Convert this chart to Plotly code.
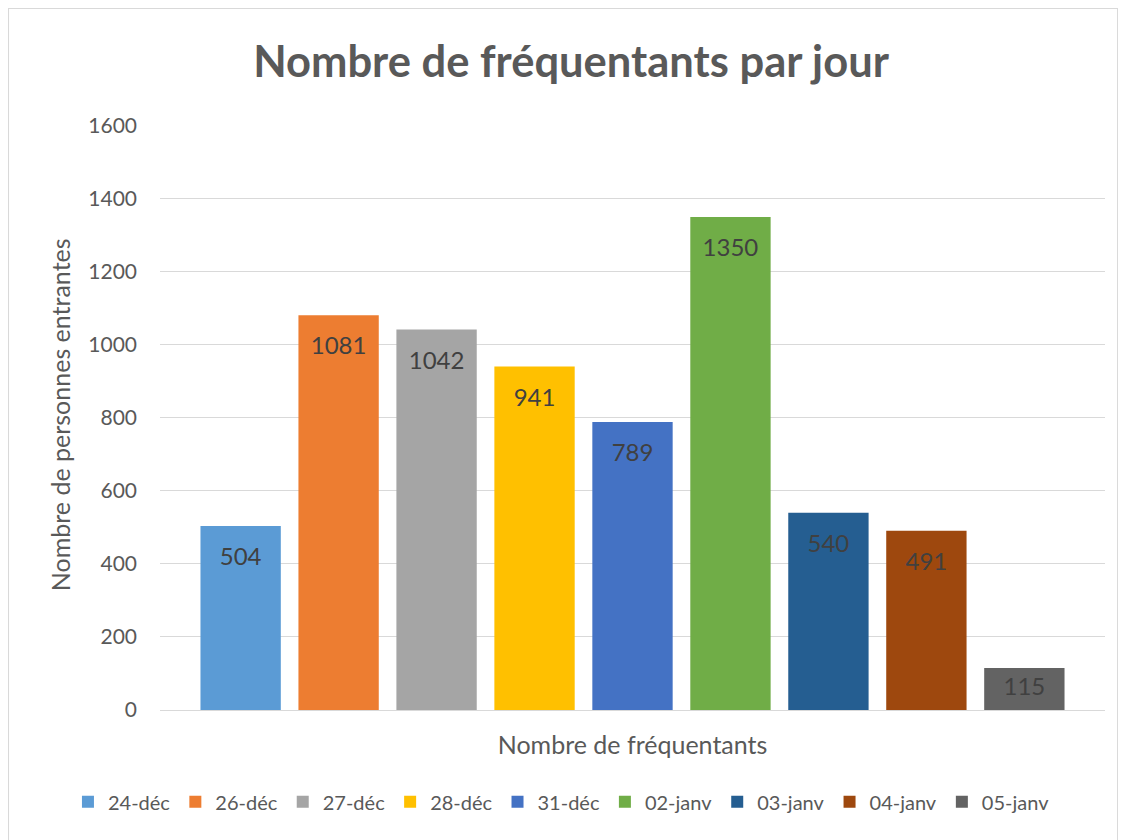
import plotly.graph_objects as go

# --- Data ---
jours = ["24-déc", "26-déc", "27-déc", "28-déc", "31-déc",
         "02-janv", "03-janv", "04-janv", "05-janv"]
frequentants = [504, 1081, 1042, 941, 789, 1350, 540, 491, 115]
couleurs = ["#5B9BD5", "#ED7D31", "#A5A5A5", "#FFC000", "#4472C4",
            "#70AD47", "#255E91", "#9E480E", "#636363"]
categorie = ["Nombre de fréquentants"]
y_ticks = [0, 200, 400, 600, 800, 1000, 1200, 1400, 1600]

police = "Lato"
gris = "#595959"


def etiquette(v):
    # small leading line pushes the label down from the bar top (tall bars only)
    if v > 200:
        return "<span style='font-size:5px'>&nbsp;</span><br>" + str(v)
    return str(v)


fig = go.Figure()
for jour, val, col in zip(jours, frequentants, couleurs):
    fig.add_trace(go.Bar(
        x=categorie, y=[val], name=jour,
        marker=dict(color=col, line=dict(width=0)),
        text=[etiquette(val)],
        textposition="inside", insidetextanchor="end",
        textfont=dict(family=police, size=24, color="#404040"),
        textangle=0, constraintext="none",
    ))

fig.update_layout(
    width=1118, height=832,
    paper_bgcolor="white", plot_bgcolor="white",
    margin=dict(l=152, r=21, t=117, b=130, autoexpand=False),
    barmode="group", bargap=0.067, bargroupgap=0.18,
    font=dict(family=police, color=gris),
    title=dict(text="<b>Nombre de fréquentants par jour</b>",
               xref="container", x=0.5036, xanchor="center",
               yref="container", y=0.935, yanchor="middle",
               font=dict(family=police, size=43.5, color=gris)),
    xaxis=dict(showgrid=False, showline=True, linecolor="#d9d9d9", linewidth=1,
               ticks="", ticklabelstandoff=13,
               tickfont=dict(family=police, size=25, color=gris)),
    yaxis=dict(range=[0, 1602], tickvals=y_ticks, showgrid=True,
               gridcolor="#d9d9d9", gridwidth=1, zeroline=False,
               ticks="", ticklabelstandoff=22,
               tickfont=dict(family=police, size=21, color=gris)),
    legend=dict(orientation="h", xref="paper", x=-0.0974, xanchor="left",
                yref="paper", y=-0.157, yanchor="middle",
                font=dict(family=police, size=20, color=gris),
                itemwidth=30, tracegroupgap=0),
    annotations=[dict(text="Nombre de personnes entrantes", textangle=-90,
                      xref="paper", yref="paper", x=-0.1058, y=0.504,
                      xanchor="center", yanchor="middle", showarrow=False,
                      font=dict(family=police, size=25, color=gris))],
    shapes=[dict(type="rect", xref="paper", yref="paper",
                 x0=-0.1608, x1=1.0138, y0=-0.25, y1=1.2,
                 line=dict(color="#d9d9d9", width=2))],
)

fig.write_html("out.html")
